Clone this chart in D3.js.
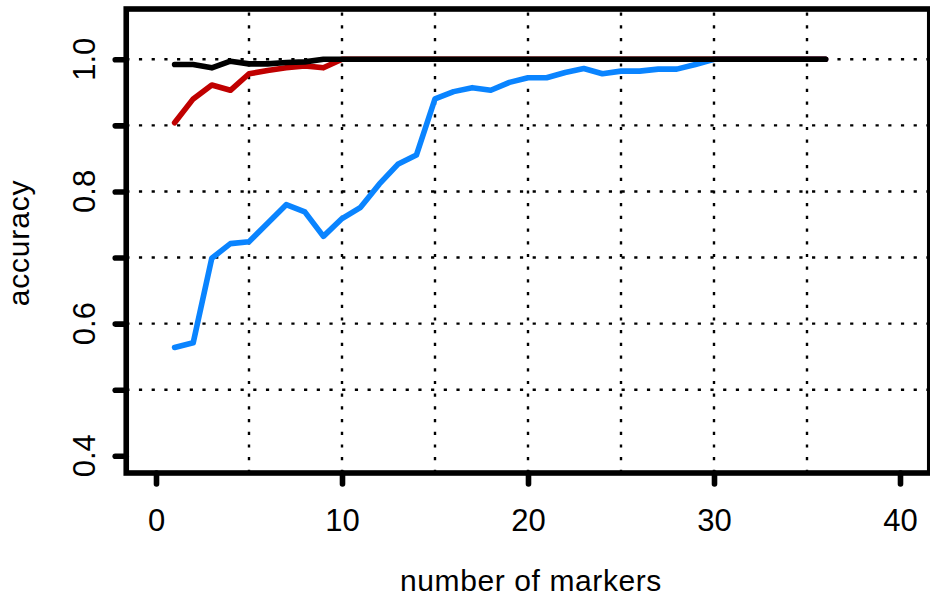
<!DOCTYPE html>
<html>
<head>
<meta charset="utf-8">
<script src="https://cdn.jsdelivr.net/npm/d3@7/dist/d3.min.js"></script>
<style>
  html, body { margin: 0; padding: 0; background: #fff; }
  svg { display: block; }
  text { font-family: "Liberation Sans", Arial, sans-serif; fill: #000; }
</style>
</head>
<body>
<svg id="chart" width="930" height="601"></svg>
<script>
// ---- data ----
const markers = [1,2,3,4,5,6,7,8,9,10,11,12,13,14,15,16,17,18,19,20,21,22,23,24,25,26,27,28,29,30,31,32,33,34,35,36];
const blueSeries = [0.564,0.571,0.699,0.721,0.724,0.752,0.780,0.769,0.732,0.759,0.776,0.811,0.841,0.855,0.940,0.951,0.957,0.953,0.965,0.972,0.972,0.980,0.986,0.978,0.982,0.982,0.985,0.985,0.992,1,1,1,1,1,1,1];
const redSeries  = [0.904,0.940,0.961,0.953,0.978,0.983,0.987,0.990,0.987,1,1,1,1,1,1,1,1,1,1,1,1,1,1,1,1,1,1,1,1,1,1,1,1,1,1,1];
const blackSeries= [0.992,0.992,0.987,0.997,0.993,0.993,0.995,0.996,1,1,1,1,1,1,1,1,1,1,1,1,1,1,1,1,1,1,1,1,1,1,1,1,1,1,1,1];
const xTicks = [0,10,20,30,40];
const xTickLabels = ["0","10","20","30","40"];
const yTicks = [0.4,0.5,0.6,0.7,0.8,0.9,1.0];
const yTickLabels = ["0.4","","0.6","","0.8","","1.0"];
const xGrid = [5,10,15,20,25,30,35];
const yGrid = [0.5,0.6,0.7,0.8,0.9,1.0];
const xTitle = "number of markers";
const yTitle = "accuracy";

// ---- layout ----
const svg = d3.select("#chart");
const x = d3.scaleLinear().domain([-1.6, 41.6]).range([126.24, 929.76]);
const y = d3.scaleLinear().domain([0.374, 1.076]).range([473, 9]);
const [x0, x1] = x.range();
const [yb, yt] = y.range();

svg.append("rect").attr("width", 930).attr("height", 601).attr("fill", "#fff");

// grid (dotted)
const grid = svg.append("g").attr("stroke", "#000").attr("stroke-width", 2.4)
  .attr("stroke-dasharray", "3.2,9.5").attr("fill", "none");
grid.selectAll("line.h").data(yGrid).join("line").attr("class", "h")
  .attr("x1", x0).attr("x2", x1).attr("y1", d => y(d)).attr("y2", d => y(d));
grid.selectAll("line.v").data(xGrid).join("line").attr("class", "v")
  .attr("x1", d => x(d)).attr("x2", d => x(d)).attr("y1", yb).attr("y2", yt);

// series lines
const line = d3.line().x((d, i) => x(markers[i])).y(d => y(d));
const series = [
  { values: blueSeries, color: "#0A84FF" },
  { values: redSeries, color: "#C00000" },
  { values: blackSeries, color: "#000000" }
];
svg.append("g").selectAll("path").data(series).join("path")
  .attr("d", d => line(d.values))
  .attr("fill", "none").attr("stroke", d => d.color)
  .attr("stroke-width", 5.6).attr("stroke-linejoin", "round").attr("stroke-linecap", "round");

// box
svg.append("rect").attr("x", x0).attr("y", yt).attr("width", x1 - x0).attr("height", yb - yt)
  .attr("fill", "none").attr("stroke", "#000").attr("stroke-width", 5.6);

// x axis ticks + labels
const xAxis = d3.axisBottom(x).tickValues(xTicks).tickSize(11).tickPadding(25)
  .tickFormat((d, i) => xTickLabels[i]);
const gx = svg.append("g").attr("transform", `translate(0,${yb})`).call(xAxis);
gx.select(".domain").remove();
gx.selectAll(".tick line").attr("stroke", "#000").attr("stroke-width", 5.6).attr("stroke-linecap", "round");
gx.selectAll(".tick text").attr("font-size", 31).attr("dy", "0.71em")
  .style("font-family", "'Liberation Sans', Arial, sans-serif").attr("fill", "#000");

// y axis ticks
const yAxis = d3.axisLeft(y).tickValues(yTicks).tickSize(11).tickFormat("");
const gy = svg.append("g").attr("transform", `translate(${x0},0)`).call(yAxis);
gy.select(".domain").remove();
gy.selectAll(".tick line").attr("stroke", "#000").attr("stroke-width", 5.6).attr("stroke-linecap", "round");
// y tick labels, rotated
svg.append("g").selectAll("text").data(yTicks).join("text")
  .attr("transform", d => `translate(95,${y(d)}) rotate(-90)`)
  .attr("text-anchor", "middle").attr("font-size", 31)
  .text((d, i) => yTickLabels[i]);

// titles
svg.append("text").attr("x", (x0 + x1) / 2 + 3).attr("y", 591)
  .attr("text-anchor", "middle").attr("font-size", 30).attr("letter-spacing", 0.6).text(xTitle);
svg.append("text").attr("transform", `translate(29,${(yb + yt) / 2 + 2}) rotate(-90)`)
  .attr("text-anchor", "middle").attr("font-size", 30).attr("letter-spacing", 0.8).text(yTitle);
</script>
</body>
</html>
